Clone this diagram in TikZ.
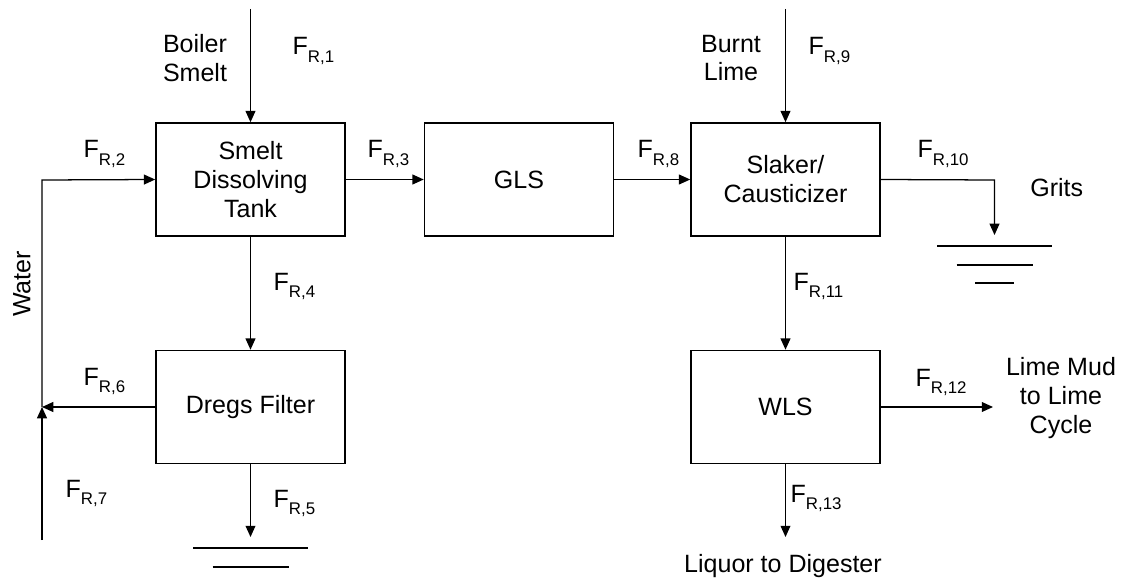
\documentclass[tikz,border=0pt]{standalone}
\usepackage{fontspec}
\setmainfont{Liberation Sans}
\usetikzlibrary{arrows.meta}

\newcommand{\flow}[1]{F\raisebox{-5.5pt}{\fontsize{12}{14}\selectfont R,#1}}

\begin{document}
\begin{tikzpicture}[x=0.025cm, y=-0.025cm, line width=0.9pt,
    every node/.style={font=\fontsize{17.8}{20.6}\selectfont},
    unit/.style={draw, line width=1.1pt, minimum width=4.725cm, minimum height=2.825cm,
      align=center, inner sep=0pt},
    stream/.style={-{Triangle[length=8pt, width=7pt]}},
    flowlbl/.style={anchor=base west, inner sep=0pt}]
  \useasboundingbox (0,0) rectangle (1130,583);

  % process units
  \node[unit] (tank)   at (250.5,179.5) {Smelt\\Dissolving\\Tank};
  \node[unit] (gls)    at (519,179.5)   {GLS};
  \node[unit] (slaker) at (785.5,179.5) {Slaker/\\Causticizer};
  \node[unit] (dregs)  at (250.5,407)   {Dregs Filter};
  \node[unit] (wls)    at (785.5,407)   {WLS};

  % free ends of the streams
  \coordinate (smeltin) at (250.5,9);
  \coordinate (limein)  at (785.5,9);
  \coordinate (waterin) at (42,540);
  \coordinate (join)    at (42,407);
  \coordinate (bend)    at (42,180);
  \coordinate (gritsbend) at (994.5,180);
  \coordinate (gritsout)  at (994.5,235);
  \coordinate (dregsout)  at (250.5,537);
  \coordinate (mudout)    at (993,407);
  \coordinate (liquorout) at (785.5,537);

  % streams
  \draw[stream] (smeltin) -- (tank.north);
  \draw[stream] (join) -- (bend) -- (tank.west);
  \draw[stream] (tank.east) -- (gls.west);
  \draw[stream] (tank.south) -- (dregs.north);
  \draw[stream] (dregs.south) -- (dregsout);
  \draw[stream] (dregs.west) -- (join);
  \draw[stream] (waterin) -- (join);
  \draw[stream] (gls.east) -- (slaker.west);
  \draw[stream] (limein) -- (slaker.north);
  \draw[stream] (slaker.east) -- (gritsbend) -- (gritsout);
  \draw[stream] (slaker.south) -- (wls.north);
  \draw[stream] (wls.east) -- (mudout);
  \draw[stream] (wls.south) -- (liquorout);

  % landfill marks
  \foreach \w/\dy in {57.5/0, 38/19, 19.5/37}
    \draw (994.5-\w,246+\dy) -- (994.5+\w,246+\dy);
  \foreach \w/\dy in {57.5/0, 38/19}
    \draw (250.5-\w,548+\dy) -- (250.5+\w,548+\dy);

  % stream names
  \node[align=center] (smelt) at (195,58) {Boiler\\Smelt};
  \node[align=center] (lime)  at (731,58) {Burnt\\Lime};
  \node[rotate=90] (water) at (22,284) {Water};
  \node[anchor=base west] (grits) at (1025,197) {Grits};
  \node[align=center] (mud) at (1061,398) {Lime Mud\\to Lime\\Cycle};
  \node (liquor) at (783,566) {Liquor to Digester};

  % flow labels
  \node[flowlbl] (f1)  at (292,55)  {\flow{1}};
  \node[flowlbl] (f2)  at (83,158)  {\flow{2}};
  \node[flowlbl] (f3)  at (367,158) {\flow{3}};
  \node[flowlbl] (f4)  at (273,290) {\flow{4}};
  \node[flowlbl] (f5)  at (273,507) {\flow{5}};
  \node[flowlbl] (f6)  at (83,385)  {\flow{6}};
  \node[flowlbl] (f7)  at (65,497)  {\flow{7}};
  \node[flowlbl] (f8)  at (637,158) {\flow{8}};
  \node[flowlbl] (f9)  at (808,55)  {\flow{9}};
  \node[flowlbl] (f10) at (917,158) {\flow{10}};
  \node[flowlbl] (f11) at (793,290) {\flow{11}};
  \node[flowlbl] (f12) at (915,386) {\flow{12}};
  \node[flowlbl] (f13) at (790,502) {\flow{13}};
\end{tikzpicture}
\end{document}
